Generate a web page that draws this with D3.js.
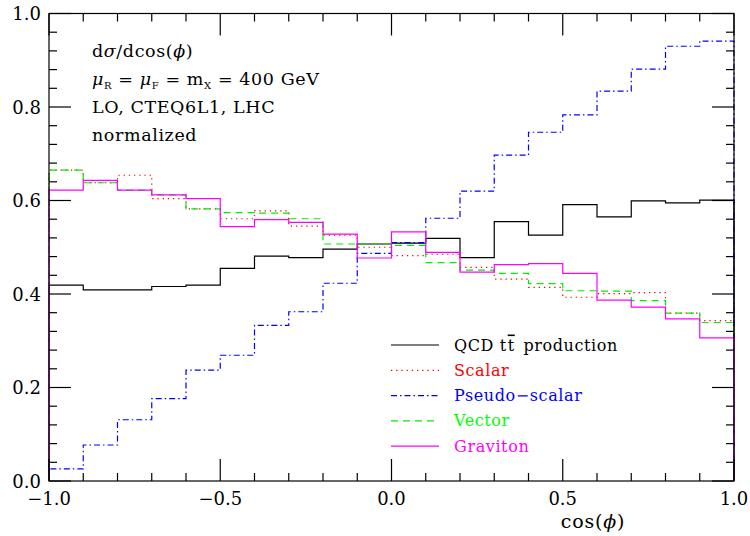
<!DOCTYPE html>
<html>
<head>
<meta charset="utf-8">
<script src="https://cdn.jsdelivr.net/npm/d3@7"></script>
<style>
  html, body { margin: 0; padding: 0; background: #fff; }
  svg text { font-family: "DejaVu Serif", serif; }
</style>
</head>
<body>
<svg id="chart" width="750" height="536"></svg>
<script>
// ---- data ----
const binEdges = [-1.0,-0.9,-0.8,-0.7,-0.6,-0.5,-0.4,-0.3,-0.2,-0.1,0.0,0.1,0.2,0.3,0.4,0.5,0.6,0.7,0.8,0.9,1.0];
const qcdValues      = [0.419,0.409,0.409,0.416,0.419,0.455,0.481,0.478,0.496,0.507,0.509,0.519,0.478,0.555,0.526,0.591,0.565,0.599,0.595,0.601];
const scalarValues   = [0.665,0.638,0.654,0.604,0.582,0.561,0.578,0.545,0.526,0.500,0.482,0.485,0.457,0.432,0.414,0.393,0.401,0.403,0.359,0.343];
const pseudoValues   = [0.026,0.077,0.131,0.176,0.237,0.269,0.333,0.362,0.423,0.487,0.510,0.562,0.620,0.697,0.746,0.783,0.834,0.881,0.930,0.941];
const vectorValues   = [0.665,0.638,0.622,0.612,0.582,0.574,0.573,0.561,0.507,0.507,0.504,0.467,0.451,0.444,0.422,0.407,0.406,0.386,0.359,0.339];
const gravitonValues = [0.622,0.643,0.622,0.612,0.604,0.544,0.559,0.553,0.528,0.477,0.533,0.489,0.447,0.463,0.465,0.444,0.387,0.372,0.347,0.306];
const seriesNames = ["QCD tt production","Scalar","Pseudo-scalar","Vector","Graviton"];
const xTickLabels = ["\u22121.0","\u22120.5","0.0","0.5","1.0"];
const xMajorTicks = [-1.0,-0.5,0.0,0.5,1.0];
const yTickLabels = ["0.0","0.2","0.4","0.6","0.8","1.0"];
const yMajorTicks = [0.0,0.2,0.4,0.6,0.8,1.0];

// ---- styles ----
const styles = [
  {color:"#000000", text:"#000000", dash:null},
  {color:"#ff0000", text:"#ff0000", dash:"1.3,3.9"},
  {color:"#0000ff", text:"#0000ff", dash:"6,3,1.5,3"},
  {color:"#00ee00", text:"#00ff00", dash:"7,5"},
  {color:"#ff00ff", text:"#ff00ff", dash:null}
];
const allValues = [qcdValues, scalarValues, pseudoValues, vectorValues, gravitonValues];

const svg = d3.select("#chart");
const L = 49, R = 734, T = 13.5, B = 481;
const x = d3.scaleLinear().domain([-1,1]).range([L,R]);
const y = d3.scaleLinear().domain([0,1]).range([B,T]);

// histograms
const line = d3.line().x(d => x(d[0])).y(d => y(d[1]));
allValues.forEach((vals, i) => {
  const pts = [[binEdges[0], 0]];
  vals.forEach((v, k) => { pts.push([binEdges[k], v]); pts.push([binEdges[k+1], v]); });
  pts.push([binEdges[binEdges.length-1], 0]);
  svg.append("path").attr("d", line(pts))
    .attr("fill","none").attr("stroke", styles[i].color)
    .attr("stroke-width", 1.2)
    .attr("stroke-dasharray", styles[i].dash);
});

// frame
svg.append("rect").attr("x",L).attr("y",T).attr("width",R-L).attr("height",B-T)
  .attr("fill","none").attr("stroke","#000").attr("stroke-width",1.2);

// ticks
const xMinor = d3.range(-1, 1.0001, 0.1);
const yMinor = d3.range(0, 1.0001, 0.04);
const isMajor = (v, arr) => arr.some(m => Math.abs(m - v) < 1e-6);
const tk = svg.append("g").attr("stroke","#000").attr("stroke-width",1.2);
xMinor.forEach(v => {
  const len = isMajor(v, xMajorTicks) ? 22 : 8;
  tk.append("line").attr("x1",x(v)).attr("x2",x(v)).attr("y1",B).attr("y2",B-len);
  tk.append("line").attr("x1",x(v)).attr("x2",x(v)).attr("y1",T).attr("y2",T+len);
});
yMinor.forEach(v => {
  const len = isMajor(v, yMajorTicks) ? 22 : 8;
  tk.append("line").attr("y1",y(v)).attr("y2",y(v)).attr("x1",L).attr("x2",L+len);
  tk.append("line").attr("y1",y(v)).attr("y2",y(v)).attr("x1",R).attr("x2",R-len);
});

// tick labels
xMajorTicks.forEach((v, i) => {
  svg.append("text").attr("x", x(v)).attr("y", 505).attr("text-anchor","middle")
    .attr("font-size", 18).text(xTickLabels[i]);
});
yMajorTicks.forEach((v, i) => {
  svg.append("text").attr("x", 41).attr("y", y(v) + 6.5).attr("text-anchor","end")
    .attr("font-size", 18).text(yTickLabels[i]);
});
const xl = svg.append("text").attr("x", 593).attr("y", 528).attr("text-anchor","middle")
  .attr("font-size", 19).attr("letter-spacing", 0.8);
xl.append("tspan").text("cos(");
xl.append("tspan").attr("font-style","italic").text("\u03D5");
xl.append("tspan").text(")");

// annotation text
const ann = svg.append("g").attr("font-size", 17.5).attr("letter-spacing", 0.6);
const t1 = ann.append("text").attr("x", 92).attr("y", 57);
t1.append("tspan").text("d");
t1.append("tspan").attr("font-style","italic").text("\u03C3");
t1.append("tspan").text("/dcos(");
t1.append("tspan").attr("font-style","italic").text("\u03D5");
t1.append("tspan").text(")");
const t2 = ann.append("text").attr("x", 92).attr("y", 85);
t2.append("tspan").attr("font-style","italic").text("\u03BC");
t2.append("tspan").attr("font-size",10).attr("dy",4).text("R");
t2.append("tspan").attr("dy",-4).text(" = ");
t2.append("tspan").attr("font-style","italic").text("\u03BC");
t2.append("tspan").attr("font-size",10).attr("dy",4).text("F");
t2.append("tspan").attr("dy",-4).text(" = m");
t2.append("tspan").attr("font-size",10).attr("dy",4).text("X");
t2.append("tspan").attr("dy",-4).text(" = 400 GeV");
ann.append("text").attr("x", 92).attr("y", 113).text("LO, CTEQ6L1, LHC");
ann.append("text").attr("x", 92).attr("y", 141).text("normalized");

// legend
const legY0 = 345, legDy = 25.3;
seriesNames.forEach((name, i) => {
  const yy = legY0 + i * legDy;
  svg.append("line").attr("x1", 391).attr("x2", 439).attr("y1", yy).attr("y2", yy)
    .attr("stroke", styles[i].color).attr("stroke-width", 1.2)
    .attr("stroke-dasharray", styles[i].dash);
  const t = svg.append("text").attr("x", 454).attr("y", yy + 5.5)
    .attr("font-size", 16).attr("letter-spacing", 0.6).attr("fill", styles[i].text);
  if (i === 0) {
    t.append("tspan").text("QCD t");
    t.append("tspan").attr("dx", 1).style("text-decoration","overline").text("t");
    t.append("tspan").attr("dx", 3).text(" production");
  } else {
    t.text(name.replace("-", "\u2212"));
  }
});
</script>
</body>
</html>
